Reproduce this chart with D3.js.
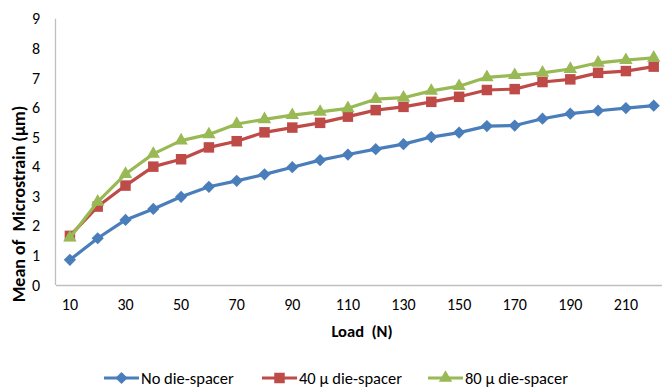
<!DOCTYPE html>
<html>
<head>
<meta charset="utf-8">
<script src="https://cdn.jsdelivr.net/npm/d3@7"></script>
<style>
  body { margin: 0; background: #fff; }
  svg text { font-family: Carlito, Lato, "Open Sans", sans-serif; fill: #000; white-space: pre; }
  .axis path, .axis line { stroke: #bfbfbf; }
</style>
</head>
<body>
<svg id="chart"></svg>
<script>
// loads (N)
const loads = [10, 20, 30, 40, 50, 60, 70, 80, 90, 100, 110, 120, 130, 140, 150, 160, 170, 180, 190, 200, 210, 220];
const tickLoads = [10, 30, 50, 70, 90, 110, 130, 150, 170, 190, 210];
const yTicks = [0, 1, 2, 3, 4, 5, 6, 7, 8, 9];

// mean microstrain values
const noSpacer = [0.85, 1.58, 2.2, 2.57, 2.98, 3.32, 3.52, 3.74, 3.98, 4.22, 4.41, 4.59, 4.76, 5.0, 5.15, 5.37, 5.39, 5.62, 5.79, 5.89, 5.98, 6.06];
const spacer40 = [1.66, 2.65, 3.36, 4.0, 4.25, 4.65, 4.86, 5.16, 5.32, 5.48, 5.69, 5.91, 6.02, 6.19, 6.36, 6.59, 6.62, 6.86, 6.95, 7.17, 7.23, 7.38];
const spacer80 = [1.6, 2.81, 3.75, 4.43, 4.88, 5.09, 5.44, 5.6, 5.74, 5.85, 5.97, 6.28, 6.33, 6.56, 6.72, 7.02, 7.09, 7.17, 7.3, 7.51, 7.6, 7.68];

const seriesNames = ['No die-spacer', '40 \u03bc die-spacer', '80 \u03bc die-spacer'];
const seriesColors = ['#4a7ebb', '#be4b48', '#98b954'];
const seriesValues = [noSpacer, spacer40, spacer80];

const width = 662, height = 389;
const margin = {top: 18.7, right: 0, bottom: 104, left: 56};

// marker shapes: diamond is a square turned 45 degrees
const markers = [
    {type: d3.symbolSquare, size: 75, rotate: 45},
    {type: d3.symbolSquare, size: 110, rotate: 0},
    {type: d3.symbolTriangle, size: 78, rotate: 0}
];

const svg = d3.select('#chart')
    .attr('width', width)
    .attr('height', height);

// points sit between ticks, Excel style
const x = d3.scaleBand()
    .domain(loads)
    .range([margin.left, margin.left + 27.8 * loads.length]);

const y = d3.scaleLinear()
    .domain([0, 9])
    .range([height - margin.bottom, margin.top]);

const cx = d => x(d) + x.bandwidth() / 2;

// axes
svg.append('g')
    .attr('class', 'axis')
    .attr('transform', `translate(0,${y(0)})`)
    .call(d3.axisBottom(x).tickValues(tickLoads).tickSize(0).tickPadding(14))
    .call(g => g.select('.domain').attr('d', `M${margin.left},0.5H${width}`).attr('stroke-width', 1.3))
    .call(g => g.selectAll('text').style('font-size', '16px'));

svg.append('g')
    .attr('class', 'axis')
    .attr('transform', `translate(${margin.left},0)`)
    .call(d3.axisLeft(y).tickValues(yTicks).tickSize(0).tickPadding(16).tickFormat(d3.format('d')))
    .call(g => g.select('.domain').attr('d', `M-0.5,${y(9)}V${y(0)}`).attr('stroke-width', 1.3))
    .call(g => g.selectAll('text').style('font-size', '16px'));

// axis titles
svg.append('text')
    .attr('x', 362)
    .attr('y', 337)
    .attr('text-anchor', 'middle')
    .style('font-size', '16.5px')
    .style('font-weight', 'bold')
    .text('Load  (N)');

svg.append('text')
    .attr('transform', 'translate(25,204) rotate(-90)')
    .attr('text-anchor', 'middle')
    .style('font-size', '18px')
    .style('font-weight', 'bold')
    .text('Mean of  Microstrain (\u03bcm)');

// series lines and markers
const line = d3.line()
    .x((d, i) => cx(loads[i]))
    .y(d => y(d));

seriesValues.forEach((vals, s) => {
    const m = markers[s];
    svg.append('path')
        .datum(vals)
        .attr('fill', 'none')
        .attr('stroke', seriesColors[s])
        .attr('stroke-width', 3.2)
        .attr('stroke-linejoin', 'round')
        .attr('d', line);

    svg.selectAll(null)
        .data(vals)
        .join('path')
        .attr('transform', (d, i) => `translate(${cx(loads[i])},${y(d)}) rotate(${m.rotate})`)
        .attr('fill', seriesColors[s])
        .attr('d', d3.symbol().type(m.type).size(m.size));
});

// legend
const legendX = [104, 262, 428];
const legend = svg.append('g');
seriesNames.forEach((name, s) => {
    const m = markers[s];
    const g = legend.append('g').attr('transform', `translate(${legendX[s]},378)`);
    g.append('line')
        .attr('x1', 0).attr('x2', 35)
        .attr('stroke', seriesColors[s])
        .attr('stroke-width', 3.2);
    g.append('path')
        .attr('transform', `translate(17.5,0) rotate(${m.rotate})`)
        .attr('fill', seriesColors[s])
        .attr('d', d3.symbol().type(m.type).size(m.size));
    g.append('text')
        .attr('x', 37)
        .attr('y', 5.5)
        .style('font-size', '16.5px')
        .text(name);
});
</script>
</body>
</html>
